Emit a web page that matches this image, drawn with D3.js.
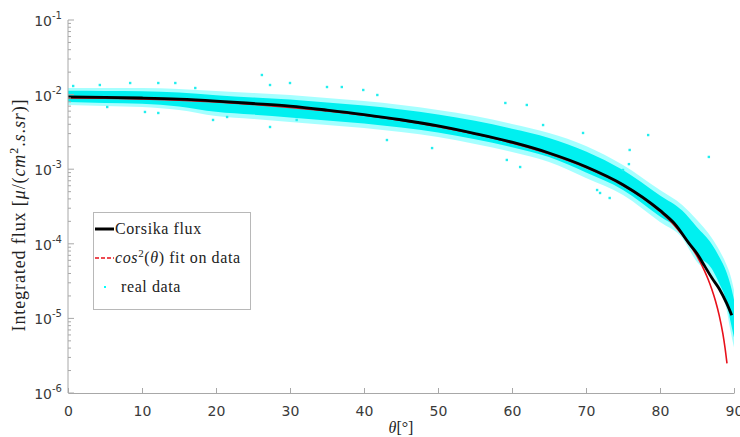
<!DOCTYPE html>
<html><head><meta charset="utf-8">
<script src="https://cdn.jsdelivr.net/npm/d3@7"></script>
<style>body{margin:0;background:#fff}svg{display:block}</style>
</head><body>
<svg id="c" width="740" height="437"></svg>
<script>
// ---- data ----
const xTicks = [0,10,20,30,40,50,60,70,80,90];
const yTickExps = [-6,-5,-4,-3,-2,-1];
// Corsika flux curve
const corsikaTheta = [0,5,10,15,20,25,30,35,40,45,50,55,60,65,70,75,80,82,84,85,86,87,88,89,89.7];
const corsikaFlux = [0.0093,0.0092,0.0090,0.0087,0.0082,0.0076,0.0070,0.0062,0.0054,0.0046,0.0038,0.0030,0.0023,0.00165,0.00108,0.00062,0.00028,0.000185,0.000099,0.000074,0.000051,0.000035,0.000025,0.000016,0.000011];
// cos^2 fit on data
const fitTheta = [0,5,10,15,20,25,30,35,40,45,50,55,60,65,70,75,78,80,82,84,85,86,86.5,87,87.5,88,88.5,88.8,89.05];
const fitFlux = [0.0090,0.00893,0.00873,0.00840,0.00795,0.00739,0.00675,0.00604,0.00528,0.00450,0.00372,0.00296,0.00225,0.00161,0.00105,0.000603,0.000389,0.000271,0.000174,0.000098,0.0000684,0.0000438,0.0000335,0.0000246,0.0000171,0.0000110,0.0000062,0.00000395,0.0000025];
// real data: dense band envelope
const bandTheta = [0,5,10,15,20,25,30,35,40,45,50,55,60,65,70,75,80,83,85,87,88,89,89.5,90];
const bandHigh = [0.0123,0.0123,0.0123,0.0119,0.0112,0.0105,0.00988,0.0090,0.0082,0.00726,0.00622,0.00516,0.00404,0.00306,0.00205,0.00114,0.000526,0.000331,0.000208,0.000120,0.0000826,0.0000520,0.0000382,0.0000240];
const bandLow = [0.00726,0.00704,0.00682,0.00622,0.00516,0.00471,0.00429,0.00391,0.00357,0.00315,0.00270,0.00218,0.00170,0.00125,0.000762,0.000451,0.000196,0.000120,0.0000570,0.0000382,0.0000240,0.0000130,0.0000070,0.0000041];
// real data: scattered points outside the dense band
const outTheta = [0.7,4.3,8.4,12.2,14.5,10.4,12.2,5.3,19.6,21.5,17.2,27.3,30.0,35.0,37.0,39.9,41.8,27.3,30.9,43.1,26.2,59.1,62.0,64.2,49.2,59.3,61.1,71.5,71.9,73.2,75.9,75.0,78.4,86.6,69.6,75.8];
const outFlux = [0.01304,0.01345,0.0143,0.0143,0.0143,0.00585,0.00567,0.00682,0.00457,0.00501,0.01226,0.01345,0.0143,0.01264,0.01264,0.01153,0.00988,0.00368,0.00457,0.00246,0.01832,0.00772,0.00726,0.00391,0.00192,0.00133,0.00107,0.000526,0.00048,0.000411,0.00181,0.000976,0.00287,0.00146,0.00306,0.00117];
const legendLabels = ["Corsika flux","fit on data","real data"];

// ---- drawing ----
const svg = d3.select("#c");
const x = d3.scaleLinear().domain([0,90]).range([68,734]);
const y = d3.scaleLog().domain([1e-6,1e-1]).range([393,20]);
const axisCol = "#a8a8a8", txtCol = "#3a3a3a";

// band
const band = bandTheta.map((t,i)=>({t, hi:bandHigh[i], lo:bandLow[i]}));
svg.append("path").datum(band)
  .attr("d", d3.area().x(d=>x(d.t)).y0(d=>y(d.lo)).y1(d=>y(d.hi)).curve(d3.curveMonotoneX))
  .attr("fill","#00ffff").attr("opacity",0.35);
svg.append("path").datum(band)
  .attr("d", d3.area().x(d=>x(d.t))
     .y0(d=>{const a=y(d.lo),b=y(d.hi);return (a+b)/2+(a-b)/2*0.66;})
     .y1(d=>{const a=y(d.lo),b=y(d.hi);return (a+b)/2-(a-b)/2*0.66;})
     .curve(d3.curveMonotoneX))
  .attr("fill","#00f0f0");
svg.append("g").selectAll("rect").data(outTheta.map((t,i)=>[t,outFlux[i]])).join("rect")
  .attr("x",d=>x(d[0])-1.2).attr("y",d=>y(d[1])-1.2).attr("width",2.4).attr("height",2.4)
  .attr("fill","#22eeee");

// fit line
const line = d3.line().x(d=>x(d[0])).y(d=>y(d[1])).curve(d3.curveMonotoneX);
svg.append("path").datum(fitTheta.map((t,i)=>[t,fitFlux[i]]))
  .attr("d",line).attr("fill","none").attr("stroke","#e8101a").attr("stroke-width",1.6);
svg.append("path").datum(corsikaTheta.map((t,i)=>[t,corsikaFlux[i]]))
  .attr("d",line).attr("fill","none").attr("stroke","#000").attr("stroke-width",2.8);

// axes
const gx = svg.append("g").attr("transform","translate(0,393)")
  .call(d3.axisBottom(x).tickValues(xTicks).tickSizeInner(-5).tickSizeOuter(0).tickPadding(13).tickFormat(d3.format("d")));
gx.select(".domain").attr("stroke",axisCol);
gx.selectAll(".tick line").attr("stroke",axisCol);
gx.selectAll("text").attr("fill",txtCol).attr("font-family","DejaVu Sans").attr("font-size",14);

const minor = [];
yTickExps.slice(0,-1).forEach(e=>{for(let k=2;k<=9;k++) minor.push(k*Math.pow(10,e));});
const gy = svg.append("g").attr("transform","translate(68,0)");
gy.append("line").attr("x1",0).attr("x2",0).attr("y1",y(1e-1)).attr("y2",y(1e-6)).attr("stroke",axisCol);
gy.selectAll(".mn").data(minor).join("line").attr("class","mn")
  .attr("x1",0).attr("x2",3).attr("y1",d=>y(d)).attr("y2",d=>y(d)).attr("stroke",axisCol);
gy.selectAll(".mj").data(yTickExps).join("line").attr("class","mj")
  .attr("x1",0).attr("x2",6).attr("y1",d=>y(Math.pow(10,d))).attr("y2",d=>y(Math.pow(10,d))).attr("stroke",axisCol);
const yl = gy.selectAll(".yl").data(yTickExps).join("text").attr("class","yl")
  .attr("x",-6).attr("y",d=>y(Math.pow(10,d))+6).attr("text-anchor","end")
  .attr("fill",txtCol).attr("font-family","DejaVu Sans").attr("font-size",14);
yl.append("tspan").text("10");
yl.append("tspan").attr("dy",-7).attr("font-size",10).text(d=>"-"+(-d));

// axis labels
const ylab = svg.append("text").attr("transform","translate(25,215) rotate(-90)")
  .attr("text-anchor","middle").attr("font-family","Liberation Serif").attr("font-size",18)
  .attr("letter-spacing",0.9).attr("fill","#222");
ylab.append("tspan").text("Integrated flux [");
ylab.append("tspan").attr("font-style","italic").text("μ");
ylab.append("tspan").text("/(");
ylab.append("tspan").attr("font-style","italic").text("cm");
ylab.append("tspan").attr("dy",-7).attr("font-size",12).text("2");
ylab.append("tspan").attr("dy",7).text(".");
ylab.append("tspan").attr("font-style","italic").text("s");
ylab.append("tspan").text(".");
ylab.append("tspan").attr("font-style","italic").text("sr");
ylab.append("tspan").text(")]");

const xlab = svg.append("text").attr("x",401).attr("y",433).attr("text-anchor","middle")
  .attr("font-family","Liberation Serif").attr("font-size",16).attr("fill","#222");
xlab.append("tspan").attr("font-style","italic").text("θ");
xlab.append("tspan").text("[°]");

// legend
const lg = svg.append("g");
lg.append("rect").attr("x",93.5).attr("y",212.5).attr("width",157).attr("height",97)
  .attr("fill","#fff").attr("stroke","#b8b8b8");
lg.append("line").attr("x1",95).attr("x2",114).attr("y1",229).attr("y2",229).attr("stroke","#000").attr("stroke-width",3);
lg.append("line").attr("x1",95).attr("x2",114).attr("y1",258).attr("y2",258).attr("stroke","#e8101a").attr("stroke-width",1.6).attr("stroke-dasharray","4,2");
lg.append("rect").attr("x",104).attr("y",286).attr("width",2).attr("height",2).attr("fill","#00ffff");
const lt = (yy)=>lg.append("text").attr("x",115).attr("y",yy).attr("font-family","Liberation Serif")
  .attr("font-size",16).attr("letter-spacing",0.6).attr("fill","#222");
lt(234).text(legendLabels[0]);
const t2 = lt(263);
t2.append("tspan").attr("font-style","italic").text("cos");
t2.append("tspan").attr("dy",-6).attr("font-size",11).text("2");
t2.append("tspan").attr("dy",6).text("(");
t2.append("tspan").attr("font-style","italic").text("θ");
t2.append("tspan").text(") "+legendLabels[1]);
lt(292).attr("x",121).text(legendLabels[2]);
</script>
</body></html>
